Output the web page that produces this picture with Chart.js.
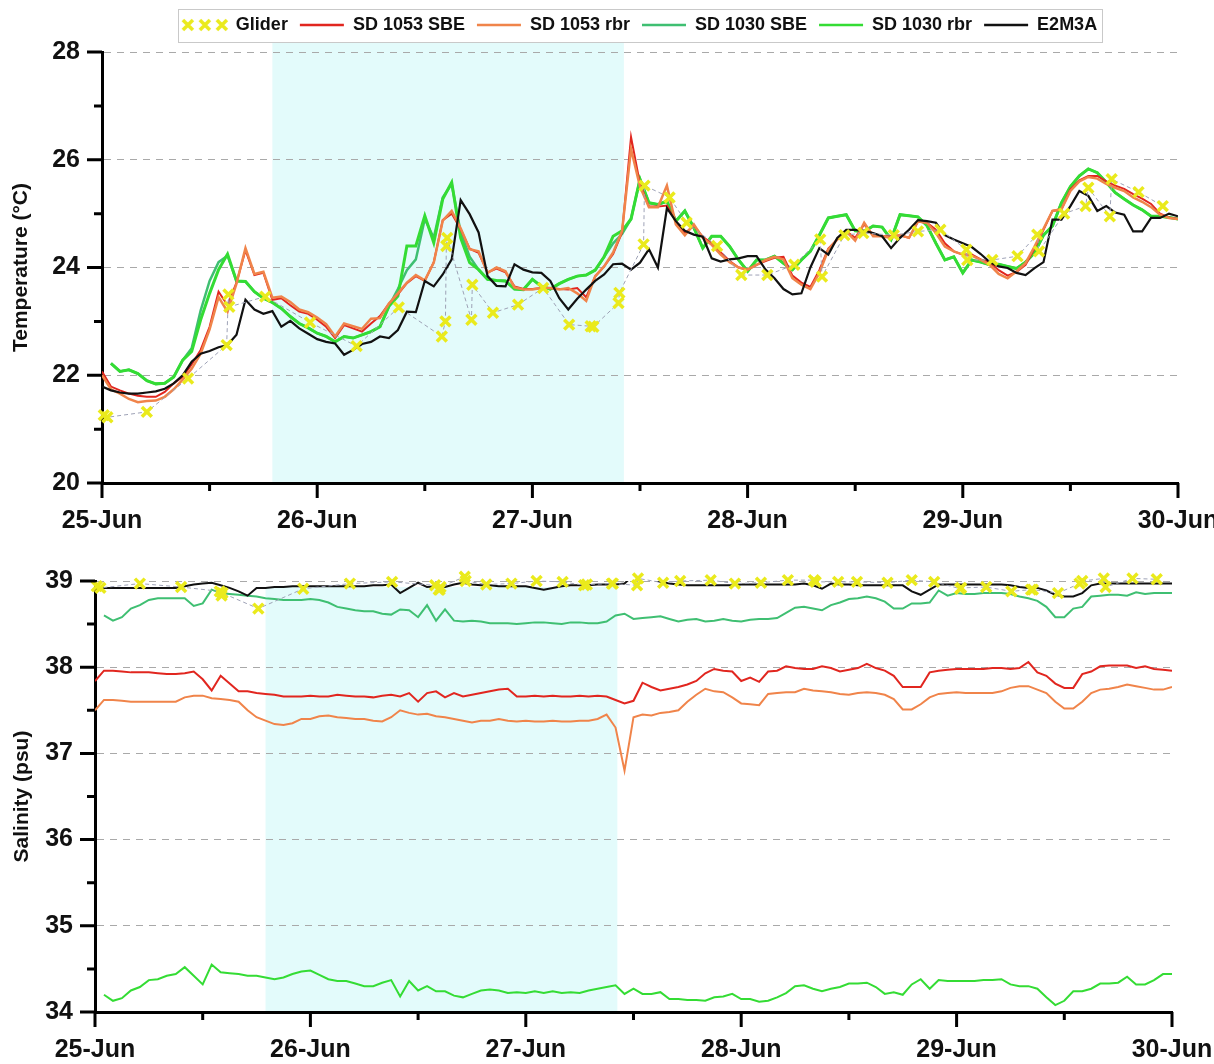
<!DOCTYPE html>
<html>
<head>
<meta charset="utf-8">
<script src="https://cdn.jsdelivr.net/npm/chart.js@4/dist/chart.umd.min.js"></script>
<style>
  html, body { margin: 0; padding: 0; background: #fff; }
  body { width: 1214px; height: 1064px; position: relative; overflow: hidden; }
  canvas { position: absolute; left: 0; }
  #temp { top: 0; }
  #sal { top: 540px; }
</style>
</head>
<body>
<canvas id="temp" width="1214" height="540"></canvas>
<canvas id="sal" width="1214" height="524"></canvas>
<script>
// ---- axis labels and time base ----
const dayLabels = ['25-Jun', '26-Jun', '27-Jun', '28-Jun', '29-Jun', '30-Jun'];
// hourly records, hours since 25-Jun 00:00
const hours = Array.from({ length: 121 }, (_, i) => i);
// shaded period (hours since 25-Jun 00:00)
const shadedPeriod = [19, 58.2];

// ---- glider profiles (hours since 25-Jun 00:00) ----
const gliderHours = [0.2, 0.6, 5.0, 9.6, 13.9, 14.1, 14.2, 18.2, 23.2, 28.4,
  33.1, 37.9, 38.3, 38.4, 38.5, 41.2, 41.3, 43.6, 46.4, 49.2,
  52.1, 54.5, 54.8, 57.6, 57.7, 60.4, 60.5, 63.3, 65.2, 68.6,
  71.3, 74.2, 77.2, 80.1, 80.3, 82.8, 84.9, 88.3, 91.0, 93.5,
  96.4, 96.5, 99.3, 102.1, 104.3, 104.5, 107.3, 109.7, 110.0, 112.4,
  112.6, 115.6, 118.3];
const gliderTemp = [21.26, 21.22, 21.32, 21.94, 22.56, 23.50, 23.27, 23.46, 22.98, 22.54,
  23.26, 22.72, 23.00, 24.40, 24.55, 23.03, 23.68, 23.16, 23.31, 23.62,
  22.94, 22.91, 22.90, 23.34, 23.53, 24.43, 25.52, 25.30, 24.83, 24.40,
  23.86, 23.86, 24.05, 24.52, 23.83, 24.60, 24.64, 24.60, 24.67, 24.70,
  24.33, 24.14, 24.14, 24.21, 24.61, 24.30, 25.00, 25.14, 25.48, 24.95,
  25.64, 25.40, 25.14];
const gliderSal = [38.94, 38.92, 38.97, 38.93, 38.88, 38.83, 38.86, 38.68, 38.91, 38.97,
  38.99, 38.95, 38.90, 38.90, 38.93, 39.05, 39.00, 38.96, 38.97, 39.00,
  38.99, 38.95, 38.96, 38.97, 38.97, 38.95, 39.03, 38.98, 39.00, 39.01,
  38.97, 38.98, 39.01, 39.01, 38.99, 38.99, 38.99, 38.98, 39.01, 38.99,
  38.91, 38.92, 38.93, 38.88, 38.90, 38.90, 38.86, 38.97, 39.00, 39.03,
  38.93, 39.03, 39.02];

// ---- temperature (°C), hourly ----
const tempSD1053SBE = [
  22.07, 21.79, 21.72, 21.66, 21.62, 21.60, 21.60, 21.69, 21.85, 21.97,
  22.20, 22.47, 22.90, 23.55, 23.30, 23.72, 24.32, 23.86, 23.90, 23.40,
  23.43, 23.30, 23.18, 23.14, 23.03, 22.90, 22.69, 22.93, 22.87, 22.81,
  22.96, 23.10, 23.33, 23.50, 23.71, 23.84, 23.75, 24.10, 24.88, 25.00,
  24.71, 24.35, 24.27, 23.91, 23.98, 23.91, 23.65, 23.60, 23.60, 23.62,
  23.62, 23.60, 23.59, 23.62, 23.45, 23.83, 24.02, 24.25, 24.65, 26.42,
  25.55, 25.13, 25.13, 25.15, 24.85, 24.63, 24.78, 24.57, 24.45, 24.28,
  24.12, 24.00, 23.96, 24.05, 24.12, 24.18, 24.20, 23.85, 23.72, 23.64,
  23.95, 24.35, 24.52, 24.67, 24.55, 24.80, 24.60, 24.58, 24.58, 24.60,
  24.55, 24.85, 24.83, 24.70, 24.45, 24.30, 24.24, 24.24, 24.15, 24.10,
  23.95, 23.85, 23.92, 24.05, 24.35, 24.70, 25.05, 25.08, 25.45, 25.62,
  25.70, 25.70, 25.60, 25.52, 25.46, 25.36, 25.28, 25.18, 25.00, 24.93,
  24.90];
const tempSD1053rbr = [
  22.00, 21.74, 21.66, 21.56, 21.50, 21.52, 21.53, 21.60, 21.74, 21.92,
  22.12, 22.40, 22.85, 23.45, 23.18, 23.70, 24.36, 23.88, 23.92, 23.44,
  23.46, 23.36, 23.22, 23.17, 23.07, 22.95, 22.72, 22.96, 22.91, 22.86,
  23.05, 23.06, 23.33, 23.52, 23.72, 23.86, 23.76, 24.09, 24.87, 25.05,
  24.73, 24.34, 24.30, 23.90, 24.00, 23.93, 23.63, 23.59, 23.59, 23.62,
  23.62, 23.59, 23.62, 23.52, 23.38, 23.84, 24.02, 24.28, 24.68, 26.20,
  25.50, 25.12, 25.12, 25.52, 24.80, 24.60, 24.80, 24.55, 24.42, 24.24,
  24.10, 24.00, 23.96, 24.05, 24.14, 24.20, 24.15, 23.80, 23.68, 23.60,
  23.90, 24.33, 24.52, 24.67, 24.50, 24.83, 24.58, 24.58, 24.55, 24.60,
  24.55, 24.86, 24.83, 24.64, 24.39, 24.30, 24.24, 24.22, 24.14, 24.05,
  23.88, 23.80, 23.93, 24.08, 24.39, 24.72, 25.05, 25.08, 25.42, 25.60,
  25.68, 25.65, 25.55, 25.48, 25.42, 25.30, 25.22, 25.12, 24.98, 24.92,
  24.90];
const tempSD1030SBE = [
  null, 22.22, 22.07, 22.10, 22.03, 21.90, 21.84, 21.85, 21.97, 22.28,
  22.50, 23.20, 23.75, 24.10, 24.22, 23.75, 23.74, 23.55, 23.43, 23.35,
  23.24, 23.09, 22.96, 22.88, 22.78, 22.72, 22.62, 22.72, 22.69, 22.75,
  22.81, 22.90, 23.28, 23.60, 23.95, 24.15, 24.90, 24.55, 25.30, 25.55,
  24.65, 24.20, 23.96, 23.78, 23.76, 23.75, 23.60, 23.59, 23.78, 23.65,
  23.60, 23.70, 23.78, 23.84, 23.86, 23.95, 24.20, 24.45, 24.62, 24.90,
  25.64, 25.20, 25.17, 25.23, 24.86, 25.05, 24.74, 24.36, 24.58, 24.58,
  24.39, 24.14, 23.93, 24.14, 24.14, 24.21, 24.08, 23.96, 24.14, 24.30,
  24.60, 24.92, 24.95, 24.98, 24.68, 24.67, 24.77, 24.75, 24.52, 24.98,
  24.96, 24.94, 24.78, 24.45, 24.14, 24.20, 23.90, 24.14, 24.10, 24.05,
  24.06, 24.02, 23.98, 24.10, 24.27, 24.60, 24.77, 25.20, 25.50, 25.70,
  25.83, 25.76, 25.58, 25.39, 25.27, 25.16, 25.07, 24.95, 24.95, 24.93,
  24.90];
const tempSD1030rbr = [
  null, 22.22, 22.07, 22.10, 22.03, 21.90, 21.84, 21.85, 21.97, 22.28,
  22.44, 23.03, 23.52, 23.96, 24.25, 23.75, 23.74, 23.55, 23.43, 23.35,
  23.24, 23.09, 22.96, 22.88, 22.78, 22.72, 22.62, 22.72, 22.69, 22.75,
  22.81, 22.90, 23.28, 23.47, 24.40, 24.40, 24.96, 24.46, 25.27, 25.58,
  24.55, 24.09, 23.96, 23.78, 23.76, 23.75, 23.60, 23.59, 23.78, 23.65,
  23.60, 23.70, 23.78, 23.84, 23.86, 23.95, 24.20, 24.58, 24.68, 24.90,
  25.64, 25.20, 25.17, 25.23, 24.86, 25.05, 24.74, 24.36, 24.58, 24.58,
  24.39, 24.14, 23.93, 24.14, 24.14, 24.21, 24.08, 23.96, 24.14, 24.30,
  24.60, 24.92, 24.95, 24.98, 24.68, 24.67, 24.77, 24.75, 24.52, 24.98,
  24.96, 24.94, 24.78, 24.45, 24.14, 24.20, 23.90, 24.14, 24.10, 24.05,
  24.06, 24.02, 23.98, 24.10, 24.27, 24.60, 24.77, 25.20, 25.50, 25.70,
  25.83, 25.76, 25.58, 25.39, 25.27, 25.16, 25.07, 24.95, 24.95, 24.93,
  24.90];
const tempE2M3A = [
  21.79, 21.72, 21.68, 21.66, 21.66, 21.68, 21.70, 21.75, 21.85, 22.00,
  22.25, 22.40, 22.45, 22.52, 22.56, 22.75, 23.40, 23.22, 23.14, 23.19,
  22.90, 23.01, 22.87, 22.77, 22.67, 22.62, 22.59, 22.38, 22.47, 22.58,
  22.62, 22.72, 22.69, 22.84, 23.18, 23.17, 23.75, 23.65, 23.87, 24.15,
  25.25, 24.99, 24.65, 23.84, 23.66, 23.65, 24.06, 23.96, 23.91, 23.90,
  23.75, 23.43, 23.22, 23.42, 23.59, 23.75, 23.87, 24.06, 24.07, 23.96,
  24.09, 24.34, 24.00, 25.10, 24.86, 24.68, 24.61, 24.57, 24.17, 24.11,
  24.15, 24.17, 24.21, 24.21, 23.96, 23.80, 23.60, 23.50, 23.52, 24.00,
  24.36, 24.24, 24.55, 24.70, 24.70, 24.68, 24.64, 24.58, 24.36, 24.55,
  24.70, 24.88, 24.86, 24.83, 24.60, 24.52, 24.45, 24.38, 24.25, 24.10,
  24.02, 23.99, 23.90, 23.86, 23.99, 24.10, 24.89, 24.89, 25.14, 25.42,
  25.33, 25.05, 25.14, 25.02, 24.98, 24.67, 24.67, 24.92, 24.92, 25.00,
  24.95];

// ---- salinity (psu), hourly ----
const salSD1053SBE = [
  37.84, 37.96, 37.96, 37.95, 37.94, 37.94, 37.94, 37.93, 37.92, 37.92,
  37.93, 37.95, 37.86, 37.73, 37.90, 37.81, 37.72, 37.72, 37.70, 37.69,
  37.68, 37.66, 37.66, 37.66, 37.67, 37.66, 37.66, 37.68, 37.67, 37.66,
  37.66, 37.65, 37.67, 37.68, 37.66, 37.70, 37.60, 37.70, 37.72, 37.65,
  37.70, 37.66, 37.68, 37.70, 37.72, 37.74, 37.75, 37.66, 37.66, 37.67,
  37.66, 37.67, 37.66, 37.66, 37.67, 37.66, 37.67, 37.66, 37.62, 37.58,
  37.61, 37.82, 37.77, 37.73, 37.75, 37.77, 37.80, 37.84, 37.93, 37.98,
  37.96, 37.95, 37.84, 37.88, 37.83, 37.95, 37.96, 38.01, 37.99, 37.98,
  37.98, 38.01, 37.99, 37.95, 37.97, 37.99, 38.04, 37.99, 37.96, 37.90,
  37.77, 37.77, 37.77, 37.94, 37.96, 37.97, 37.98, 37.98, 37.98, 37.98,
  37.99, 37.99, 37.98, 37.99, 38.06, 37.94, 37.90, 37.81, 37.76, 37.76,
  37.92, 37.95, 38.01, 38.02, 38.02, 38.02, 37.99, 38.01, 37.98, 37.97,
  37.96];
const salSD1053rbr = [
  37.50, 37.62, 37.62, 37.61, 37.60, 37.60, 37.60, 37.60, 37.60, 37.60,
  37.65, 37.67, 37.67, 37.64, 37.63, 37.62, 37.60, 37.50, 37.42, 37.38,
  37.34, 37.33, 37.35, 37.40, 37.40, 37.43, 37.44, 37.42, 37.41, 37.40,
  37.40, 37.38, 37.37, 37.42, 37.50, 37.47, 37.45, 37.46, 37.43, 37.42,
  37.40, 37.38, 37.36, 37.38, 37.38, 37.40, 37.38, 37.37, 37.38, 37.37,
  37.37, 37.38, 37.37, 37.37, 37.38, 37.38, 37.40, 37.45, 37.30, 36.80,
  37.42, 37.45, 37.44, 37.47, 37.48, 37.50, 37.60, 37.68, 37.75, 37.72,
  37.71, 37.65, 37.58, 37.57, 37.56, 37.69, 37.70, 37.71, 37.71, 37.75,
  37.73, 37.72, 37.71, 37.69, 37.68, 37.70, 37.71, 37.70, 37.68, 37.63,
  37.51, 37.51, 37.57, 37.65, 37.69, 37.70, 37.71, 37.70, 37.70, 37.70,
  37.70, 37.72, 37.76, 37.78, 37.78, 37.74, 37.70, 37.60, 37.52, 37.52,
  37.60, 37.70, 37.74, 37.75, 37.77, 37.80, 37.78, 37.76, 37.74, 37.74,
  37.77];
const salSD1030SBE = [
  null, 38.60, 38.54, 38.58, 38.68, 38.72, 38.78, 38.80, 38.80, 38.80,
  38.80, 38.71, 38.74, 38.90, 38.86, 38.85, 38.84, 38.83, 38.82, 38.80,
  38.79, 38.78, 38.78, 38.78, 38.79, 38.78, 38.75, 38.70, 38.68, 38.66,
  38.65, 38.65, 38.62, 38.61, 38.67, 38.66, 38.58, 38.72, 38.54, 38.67,
  38.54, 38.53, 38.54, 38.53, 38.51, 38.51, 38.51, 38.50, 38.51, 38.52,
  38.52, 38.51, 38.50, 38.52, 38.52, 38.51, 38.51, 38.53, 38.60, 38.62,
  38.56, 38.57, 38.58, 38.59, 38.56, 38.53, 38.55, 38.56, 38.53, 38.54,
  38.56, 38.54, 38.53, 38.55, 38.56, 38.56, 38.57, 38.63, 38.69, 38.70,
  38.68, 38.66, 38.72, 38.75, 38.79, 38.80, 38.82, 38.80, 38.76, 38.68,
  38.68, 38.74, 38.74, 38.75, 38.89, 38.83, 38.86, 38.85, 38.85, 38.86,
  38.86, 38.86, 38.85, 38.82, 38.80, 38.77, 38.70, 38.58, 38.58, 38.68,
  38.70, 38.82, 38.83, 38.84, 38.84, 38.83, 38.87, 38.85, 38.86, 38.86,
  38.86];
const salSD1030rbr = [
  null, 34.20, 34.13, 34.16, 34.25, 34.29, 34.37, 34.38, 34.42, 34.44,
  34.52, 34.42, 34.32, 34.55, 34.46, 34.45, 34.44, 34.42, 34.42, 34.40,
  34.38, 34.40, 34.44, 34.47, 34.48, 34.43, 34.38, 34.36, 34.36, 34.33,
  34.30, 34.30, 34.34, 34.37, 34.18, 34.36, 34.25, 34.30, 34.24, 34.24,
  34.19, 34.17, 34.21, 34.25, 34.26, 34.25, 34.22, 34.23, 34.22, 34.24,
  34.22, 34.24, 34.22, 34.23, 34.22, 34.25, 34.27, 34.29, 34.31, 34.21,
  34.27, 34.21, 34.21, 34.23, 34.15, 34.15, 34.14, 34.14, 34.13, 34.17,
  34.18, 34.21, 34.15, 34.15, 34.12, 34.13, 34.17, 34.22, 34.30, 34.31,
  34.27, 34.24, 34.27, 34.29, 34.33, 34.33, 34.34, 34.29, 34.21, 34.23,
  34.20, 34.32, 34.38, 34.27, 34.37, 34.36, 34.36, 34.36, 34.36, 34.37,
  34.37, 34.38, 34.32, 34.30, 34.30, 34.27, 34.17, 34.08, 34.13, 34.24,
  34.24, 34.27, 34.33, 34.33, 34.34, 34.41, 34.32, 34.32, 34.37, 34.44,
  34.44];
const salE2M3A = [
  38.92, 38.92, 38.92, 38.92, 38.92, 38.92, 38.92, 38.92, 38.92, 38.92,
  38.94, 38.96, 38.97, 38.98, 38.95, 38.92, 38.88, 38.83, 38.92, 38.92,
  38.93, 38.93, 38.94, 38.94, 38.94, 38.94, 38.94, 38.94, 38.94, 38.94,
  38.94, 38.95, 38.95, 38.96, 38.86, 38.92, 38.98, 38.93, 38.94, 38.93,
  38.96, 38.98, 38.96, 38.95, 38.95, 38.94, 38.94, 38.94, 38.94, 38.92,
  38.90, 38.92, 38.94, 38.95, 38.95, 38.95, 38.96, 38.96, 38.96, 38.97,
  39.07, 39.08, 39.02, 38.99, 38.97, 38.96, 38.95, 38.95, 38.95, 38.95,
  38.95, 38.95, 38.96, 38.96, 38.96, 38.96, 38.96, 38.96, 38.96, 38.97,
  38.95, 38.91, 38.97, 38.96, 38.96, 38.95, 38.95, 38.95, 38.95, 38.95,
  38.95, 38.88, 38.84, 38.90, 38.96, 38.96, 38.96, 38.96, 38.96, 38.96,
  38.96, 38.96, 38.95, 38.93, 38.92, 38.92, 38.89, 38.84, 38.82, 38.82,
  38.86, 38.95, 38.97, 38.97, 38.97, 38.97, 38.97, 38.97, 38.97, 38.97,
  38.97];

// ---- styling ----
const FONT = "'Liberation Sans', Arial, Helvetica, sans-serif";
const C = {
  glider: '#eaea1c',
  gliderLine: '#9ea2b6',
  sd1053sbe: '#e1261f',
  sd1053rbr: '#f0844a',
  sd1030sbe: '#3fbf72',
  sd1030rbr: '#34dc34',
  e2m3a: '#111111',
  shade: '#e3fbfb',
  grid: '#a9a9a9'
};
Chart.defaults.font.family = FONT;
Chart.defaults.font.weight = 'bold';
Chart.defaults.color = '#111';

const onHours = vals => vals.map((v, i) => ({ x: hours[i], y: v }));
const onGlider = vals => vals.map((v, i) => ({ x: gliderHours[i], y: v }));

// three crossed markers used as the glider legend symbol
function gliderSymbol() {
  const c = document.createElement('canvas');
  c.width = 50; c.height = 16;
  const g = c.getContext('2d');
  g.strokeStyle = C.glider; g.lineWidth = 3.5;
  [8, 25, 42].forEach(cx => {
    g.beginPath();
    g.moveTo(cx - 5, 3); g.lineTo(cx + 5, 13);
    g.moveTo(cx + 5, 3); g.lineTo(cx - 5, 13);
    g.stroke();
  });
  return c;
}

// light band marking a time window, drawn beneath grid and data
const shadeBand = {
  id: 'shadeBand',
  beforeDraw(chart, _args, o) {
    const { ctx, chartArea: ca, scales: { x } } = chart;
    const x0 = x.getPixelForValue(o.from), x1 = x.getPixelForValue(o.to);
    const top = ca.top + o.topOffset;
    ctx.save();
    ctx.fillStyle = o.color;
    ctx.fillRect(x0, top, x1 - x0, ca.bottom - top);
    ctx.restore();
  }
};

// outward tick marks: long at labelled values, short in between
const axisTicks = {
  id: 'axisTicks',
  afterDraw(chart, _args, o) {
    const { ctx, scales: { x, y } } = chart;
    const isMajor = (v, step) => Math.abs(v / step - Math.round(v / step)) < 1e-6;
    ctx.save();
    ctx.strokeStyle = '#000';
    ctx.lineWidth = o.width;
    ctx.beginPath();
    x.ticks.forEach(t => {
      const p = x.getPixelForValue(t.value);
      const len = isMajor(t.value, o.xMajor) ? o.major : o.minor;
      ctx.moveTo(p, x.top); ctx.lineTo(p, x.top + len);
    });
    y.ticks.forEach(t => {
      const p = y.getPixelForValue(t.value);
      const len = isMajor(t.value, o.yMajor) ? o.major : o.minor;
      ctx.moveTo(y.right, p); ctx.lineTo(y.right - len, p);
    });
    ctx.stroke();
    ctx.restore();
  }
};

// thin frame around the legend row
const legendFrame = {
  id: 'legendFrame',
  afterDraw(chart, _args, o) {
    const lg = chart.legend;
    if (!lg || !lg.legendHitBoxes || !lg.legendHitBoxes.length) return;
    const hb = lg.legendHitBoxes;
    const l = Math.min(...hb.map(h => h.left)) - o.padX;
    const r = Math.max(...hb.map(h => h.left + h.width)) + o.padX;
    const cy = hb[0].top + hb[0].height / 2;
    const { ctx } = chart;
    ctx.save();
    ctx.strokeStyle = o.color;
    ctx.lineWidth = 1;
    ctx.strokeRect(Math.round(l) + 0.5, Math.round(cy - o.halfH) + 0.5,
      Math.round(r - l), Math.round(2 * o.halfH));
    ctx.restore();
  }
};

function lineSet(label, data, color, width, order) {
  return {
    label, data, order,
    borderColor: color, backgroundColor: color,
    borderWidth: width, pointRadius: 0, pointHoverRadius: 0,
    tension: 0, fill: false, spanGaps: false
  };
}
function gliderSet(data) {
  return {
    label: 'Glider', data, order: 0, clip: false,
    showLine: true, borderColor: C.gliderLine, borderWidth: 1, borderDash: [4, 3],
    pointStyle: 'crossRot', pointRadius: 7, pointBorderWidth: 3.5,
    pointBorderColor: C.glider, pointBackgroundColor: C.glider,
    tension: 0, fill: false
  };
}

function xAxis(heightPx) {
  return {
    type: 'linear', min: 0, max: 120,
    ticks: {
      stepSize: 12, autoSkip: false, maxRotation: 0, padding: 23,
      font: { size: 25, weight: 'bold' }, color: '#111',
      callback: v => (v % 24 === 0 ? dayLabels[v / 24] : '')
    },
    grid: { display: true, drawOnChartArea: false, drawTicks: false },
    border: { display: true, width: 3, color: '#000' },
    afterFit: s => { s.height = heightPx; s.paddingLeft = 0; s.paddingRight = 0; }
  };
}
function yAxis(min, max, step, majorStep, widthPx, title, titlePad) {
  const isMajor = v => Math.abs(v / majorStep - Math.round(v / majorStep)) < 1e-6;
  return {
    type: 'linear', min, max,
    ticks: {
      stepSize: step, autoSkip: false, padding: 22,
      font: { size: 25, weight: 'bold' }, color: '#111',
      callback: v => (isMajor(v) ? String(Math.round(v)) : '')
    },
    grid: {
      drawTicks: false, lineWidth: 1,
      color: c => (c.tick && isMajor(c.tick.value) && Math.abs(c.tick.value - min) > 1e-6) ? C.grid : 'rgba(0,0,0,0)'
    },
    border: { display: true, width: 3, color: '#000', dash: [7, 6] },
    title: {
      display: true, text: title, color: '#111',
      font: { size: 21, weight: 'bold' }, padding: { top: titlePad, bottom: 0 }
    },
    afterFit: s => { s.width = widthPx; }
  };
}

// ---- temperature panel ----
const symbol = gliderSymbol();
new Chart(document.getElementById('temp'), {
  type: 'line',
  data: {
    datasets: [
      gliderSet(onGlider(gliderTemp)),
      lineSet('SD 1053 SBE', onHours(tempSD1053SBE), C.sd1053sbe, 2, 3),
      lineSet('SD 1053 rbr', onHours(tempSD1053rbr), C.sd1053rbr, 2.5, 2),
      lineSet('SD 1030 SBE', onHours(tempSD1030SBE), C.sd1030sbe, 2.5, 5),
      lineSet('SD 1030 rbr', onHours(tempSD1030rbr), C.sd1030rbr, 3, 4),
      lineSet('E2M3A', onHours(tempE2M3A), C.e2m3a, 2.2, 1)
    ]
  },
  options: {
    responsive: false, animation: false, devicePixelRatio: 1,
    layout: { padding: { top: 4, left: 0, right: 36, bottom: 0 } },
    scales: {
      x: xAxis(57),
      y: yAxis(20, 28, 1, 2, 102, 'Temperature (°C)', 9)
    },
    plugins: {
      tooltip: { enabled: false },
      title: { display: true, text: ' ', position: 'top', weight: 500, padding: 0,
               font: { size: 1, lineHeight: '8px' } },
      legend: {
        display: true, position: 'top', fullSize: false,
        labels: {
          usePointStyle: true, pointStyleWidth: 44, padding: 12,
          font: { size: 18, weight: 'bold' }, color: '#111',
          sort: (a, b) => a.datasetIndex - b.datasetIndex,
          generateLabels: chart => chart.data.datasets.map((ds, i) => ({
            text: ds.label, datasetIndex: i, hidden: false, fontColor: '#111',
            pointStyle: i === 0 ? symbol : 'line',
            strokeStyle: i === 0 ? C.glider : ds.borderColor,
            fillStyle: i === 0 ? C.glider : ds.borderColor,
            lineWidth: i === 0 ? 0 : 2.5
          }))
        }
      },
      shadeBand: { from: shadedPeriod[0], to: shadedPeriod[1], color: C.shade, topOffset: -9 },
      axisTicks: { major: 15, minor: 8, width: 3, xMajor: 24, yMajor: 2 },
      legendFrame: { padX: 5, halfH: 16.5, color: '#c9c9c9' }
    }
  },
  plugins: [shadeBand, axisTicks, legendFrame]
});

// ---- salinity panel ----
new Chart(document.getElementById('sal'), {
  type: 'line',
  data: {
    datasets: [
      gliderSet(onGlider(gliderSal)),
      lineSet('SD 1053 SBE', onHours(salSD1053SBE), C.sd1053sbe, 2, 3),
      lineSet('SD 1053 rbr', onHours(salSD1053rbr), C.sd1053rbr, 2, 2),
      lineSet('SD 1030 SBE', onHours(salSD1030SBE), C.sd1030sbe, 2, 5),
      lineSet('SD 1030 rbr', onHours(salSD1030rbr), C.sd1030rbr, 2, 4),
      lineSet('E2M3A', onHours(salE2M3A), C.e2m3a, 2, 1)
    ]
  },
  options: {
    responsive: false, animation: false, devicePixelRatio: 1,
    layout: { padding: { top: 41, left: 0, right: 42, bottom: 0 } },
    scales: {
      x: xAxis(52),
      y: yAxis(34, 39, 0.5, 1, 95, 'Salinity (psu)', 10)
    },
    plugins: {
      tooltip: { enabled: false },
      legend: { display: false },
      shadeBand: { from: shadedPeriod[0], to: shadedPeriod[1], color: C.shade, topOffset: 6 },
      axisTicks: { major: 15, minor: 8, width: 3, xMajor: 24, yMajor: 1 }
    }
  },
  plugins: [shadeBand, axisTicks]
});
</script>
</body>
</html>
